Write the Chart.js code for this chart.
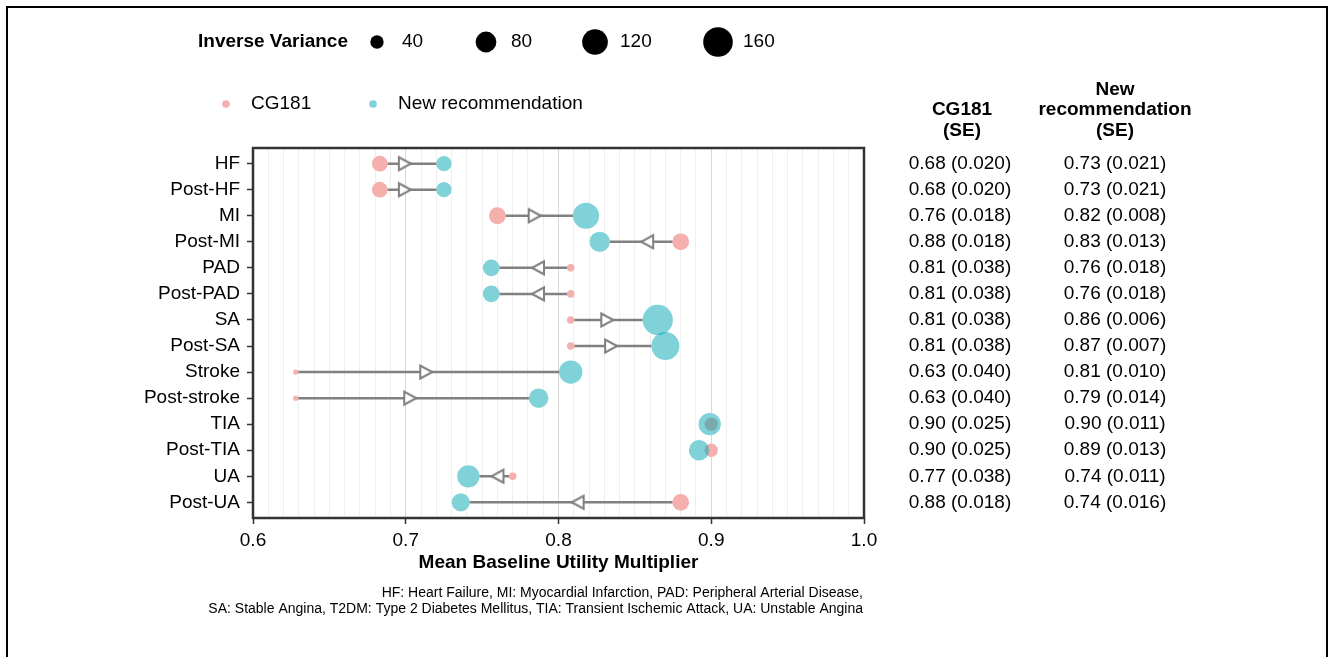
<!DOCTYPE html>
<html>
<head>
<meta charset="utf-8">
<script src="https://cdn.jsdelivr.net/npm/chart.js@4.4.0/dist/chart.umd.min.js"></script>
<style>
html,body{margin:0;padding:0;background:#fff;}
canvas{display:block;}
</style>
</head>
<body>
<canvas id="c" width="1329" height="657"></canvas>
<script>
// ---------------- DATA ----------------
const categories = ['HF','Post-HF','MI','Post-MI','PAD','Post-PAD','SA','Post-SA','Stroke','Post-stroke','TIA','Post-TIA','UA','Post-UA'];
// plotted means
const cg181Values  = [0.683,0.683,0.760,0.880,0.808,0.808,0.808,0.808,0.628,0.628,0.900,0.900,0.770,0.880];
const newRecValues = [0.725,0.725,0.818,0.827,0.756,0.756,0.865,0.870,0.808,0.787,0.899,0.892,0.741,0.736];
// table values
const cg181Mean  = [0.68,0.68,0.76,0.88,0.81,0.81,0.81,0.81,0.63,0.63,0.90,0.90,0.77,0.88];
const cg181SE    = [0.020,0.020,0.018,0.018,0.038,0.038,0.038,0.038,0.040,0.040,0.025,0.025,0.038,0.018];
const newRecMean = [0.73,0.73,0.82,0.83,0.76,0.76,0.86,0.87,0.81,0.79,0.90,0.89,0.74,0.74];
const newRecSE   = [0.021,0.021,0.008,0.013,0.018,0.018,0.006,0.007,0.010,0.014,0.011,0.013,0.011,0.016];
// inverse-variance weights (marker size)
const cg181InvVar  = [50,50,55.6,55.6,26.3,26.3,26.3,26.3,25,25,40,40,26.3,55.6];
const newRecInvVar = [47.6,47.6,125,76.9,55.6,55.6,166.7,142.9,100,71.4,90.9,76.9,90.9,62.5];
const sizeLegendBreaks = [40,80,120,160];
const xMajorTicks = [0.6,0.7,0.8,0.9,1.0];
const xTickLabels = ['0.6','0.7','0.8','0.9','1.0'];
const seriesNames = ['CG181','New recommendation'];
const footnoteLines = [
  'HF: Heart Failure, MI: Myocardial Infarction, PAD: Peripheral Arterial Disease,',
  'SA: Stable Angina, T2DM: Type 2 Diabetes Mellitus, TIA: Transient Ischemic Attack, UA: Unstable Angina'
];

// ---------------- STYLE ----------------
const FONT = '"Liberation Sans", Arial, Helvetica, sans-serif';
const PINK = 'rgba(235,95,90,0.5)';
const CYAN = 'rgba(0,165,175,0.5)';
const LINE_GREY = '#808080';
Chart.defaults.font.family = FONT;
Chart.defaults.color = '#000';

const allW = cg181InvVar.concat(newRecInvVar);
const wMin = Math.min(...allW), wMax = Math.max(...allW);
function radiusFor(w){
  const s = Math.sqrt(Math.max(0,(w - wMin)/(wMax - wMin)));
  return 2.6 + 12.5*s;
}
function isMajor(v){ return xMajorTicks.some(m => Math.abs(m - v) < 1e-6); }

// open arrow head: tip at canvas centre, pointing right
function makeArrow(){
  const c = document.createElement('canvas');
  c.width = 34; c.height = 34;
  const g = c.getContext('2d');
  g.beginPath();
  g.moveTo(16, 17);
  g.lineTo(4, 10.5);
  g.lineTo(4, 23.5);
  g.closePath();
  g.fillStyle = '#fff';
  g.fill();
  g.lineWidth = 2;
  g.lineJoin = 'miter';
  g.strokeStyle = LINE_GREY;
  g.stroke();
  return c;
}
const arrowImg = makeArrow();

const segData = [];
categories.forEach((c,i)=>{
  segData.push({x:cg181Values[i], y:i},{x:newRecValues[i], y:i},{x:null, y:null});
});
const arrowData = categories.map((c,i)=>({x:(cg181Values[i]+newRecValues[i])/2, y:i}));
const arrowRot = categories.map((c,i)=> newRecValues[i] >= cg181Values[i] ? 0 : 180);
// arrow heads are hidden beneath the markers when the change is tiny
const arrowVis = categories.map((c,i)=> Math.abs(newRecValues[i]-cg181Values[i]) >= 0.01 ? 7 : 0);
const pinkData = categories.map((c,i)=>({x:cg181Values[i], y:i}));
const cyanData = categories.map((c,i)=>({x:newRecValues[i], y:i}));
const pinkR = cg181InvVar.map(radiusFor);
const cyanR = newRecInvVar.map(radiusFor);

const decorPlugin = {
  id:'decor',
  afterDraw(chart){
    const ctx = chart.ctx;
    const a = chart.chartArea;
    const ys = chart.scales.y;
    ctx.save();
    // outer figure frame
    ctx.strokeStyle = '#000';
    ctx.lineWidth = 2;
    ctx.strokeRect(7, 7, 1320, 720);
    // panel frame
    ctx.strokeStyle = '#333';
    ctx.lineWidth = 2.5;
    ctx.strokeRect(a.left, a.top, a.right - a.left, a.bottom - a.top);

    // size legend
    ctx.fillStyle = '#000';
    ctx.textBaseline = 'middle';
    ctx.textAlign = 'left';
    ctx.font = 'bold 19px ' + FONT;
    ctx.fillText('Inverse Variance', 198, 42);
    ctx.font = '19px ' + FONT;
    const keyX = [377, 486, 595, 718];
    sizeLegendBreaks.forEach((b,k)=>{
      ctx.beginPath();
      ctx.arc(keyX[k], 42, radiusFor(b), 0, Math.PI*2);
      ctx.fillStyle = '#000';
      ctx.fill();
      ctx.fillText(String(b), keyX[k] + 25, 42);
    });
    // colour legend
    const colKeyX = [226, 373];
    const colCols = [PINK, CYAN];
    seriesNames.forEach((n,k)=>{
      ctx.beginPath();
      ctx.arc(colKeyX[k], 104, 3.8, 0, Math.PI*2);
      ctx.fillStyle = colCols[k];
      ctx.fill();
      ctx.fillStyle = '#000';
      ctx.fillText(n, colKeyX[k] + 25, 104);
    });

    // table headers
    ctx.textAlign = 'center';
    ctx.font = 'bold 19px ' + FONT;
    const c1 = 960, c2 = 1115;
    ctx.fillText('CG181', 962, 110);
    ctx.fillText('(SE)', 962, 131);
    ctx.fillText('New', c2, 90);
    ctx.fillText('recommendation', c2, 110);
    ctx.fillText('(SE)', c2, 131);
    ctx.font = '19px ' + FONT;
    categories.forEach((c,i)=>{
      const y = ys.getPixelForValue(i);
      ctx.fillText(cg181Mean[i].toFixed(2) + ' (' + cg181SE[i].toFixed(3) + ')', c1, y);
      ctx.fillText(newRecMean[i].toFixed(2) + ' (' + newRecSE[i].toFixed(3) + ')', c2, y);
    });

    // footnote
    ctx.textAlign = 'right';
    ctx.font = '14px ' + FONT;
    ctx.fillText(footnoteLines[0], 863, 593);
    ctx.fillText(footnoteLines[1], 863, 609);
    ctx.restore();
  }
};

new Chart(document.getElementById('c'), {
  type:'scatter',
  data:{
    datasets:[
      { // new recommendation (top)
        label: seriesNames[1], data: cyanData, order:0,
        backgroundColor: CYAN, borderWidth:0, pointRadius: cyanR, pointHoverRadius: cyanR
      },
      { // CG181
        label: seriesNames[0], data: pinkData, order:1,
        backgroundColor: PINK, borderWidth:0, pointRadius: pinkR, pointHoverRadius: pinkR
      },
      { // white underlay (hides line under translucent markers)
        data: cyanData.concat(pinkData), order:2,
        backgroundColor:'#fff', borderWidth:0, pointRadius: cyanR.concat(pinkR)
      },
      { // arrow heads
        data: arrowData, order:3,
        pointStyle: arrowImg, pointRadius: arrowVis, pointRotation: arrowRot
      },
      { // connecting segments
        data: segData, order:4, showLine:true, spanGaps:false,
        borderColor: LINE_GREY, borderWidth:2.5, pointRadius:0
      }
    ]
  },
  options:{
    responsive:false,
    devicePixelRatio:1,
    animation:false,
    events:[],
    layout:{ padding:{ left:0, top:148, right:465, bottom:80 } },
    plugins:{ legend:{display:false}, tooltip:{enabled:false} },
    scales:{
      x:{
        type:'linear', min:0.6, max:1.0,
        afterBuildTicks(s){ const t=[]; for(let k=60;k<=100;k++) t.push({value:k/100}); s.ticks=t; },
        afterFit(s){ s.height = 59; },
        border:{display:false},
        grid:{
          drawOnChartArea:true, drawTicks:true, tickLength:6, lineWidth:1, tickWidth:1.5,
          color: c => isMajor(c.tick.value) ? '#d9d9d9' : '#efefef',
          tickColor: c => isMajor(c.tick.value) ? '#333' : 'rgba(0,0,0,0)'
        },
        ticks:{
          autoSkip:false, maxRotation:0, minRotation:0, padding:5,
          font:{size:19}, color:'#000',
          callback(v){ const k = xMajorTicks.findIndex(m => Math.abs(m - v) < 1e-6); return k >= 0 ? xTickLabels[k] : ''; }
        },
        title:{ display:true, text:'Mean Baseline Utility Multiplier', font:{size:19, weight:'bold'}, color:'#000', padding:{top:0,bottom:3} }
      },
      y:{
        type:'linear', min:-0.6, max:13.6, reverse:true,
        afterBuildTicks(s){ s.ticks = categories.map((c,i)=>({value:i})); },
        afterFit(s){ s.width = 253; },
        border:{display:false},
        grid:{ drawOnChartArea:false, drawTicks:true, tickLength:6, tickColor:'#333', tickWidth:1.5 },
        ticks:{ autoSkip:false, padding:7, font:{size:19}, color:'#000', callback(v){ return categories[v]; } }
      }
    }
  },
  plugins:[decorPlugin]
});
</script>
</body>
</html>
